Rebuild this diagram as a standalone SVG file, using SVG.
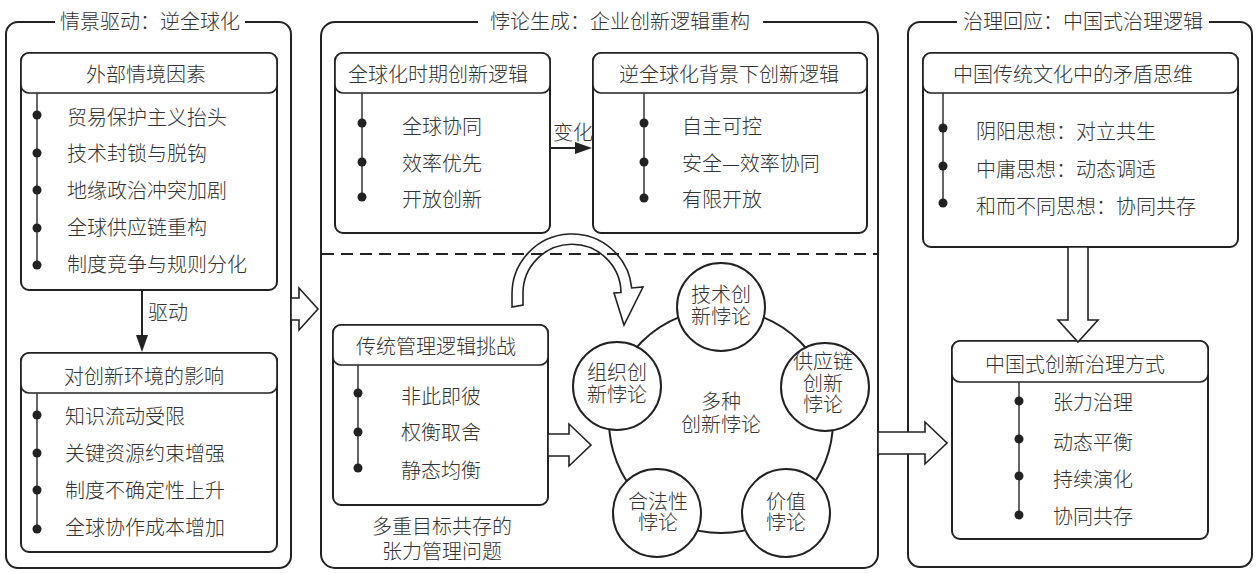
<svg xmlns="http://www.w3.org/2000/svg" width="1257" height="573" viewBox="0 0 1257 573">
<style>
  .panel{fill:none;stroke:#222;stroke-width:2}
  .gap{fill:#fff;stroke:none}
  .box{fill:#fff;stroke:#222;stroke-width:2}
  .hdr{fill:#fff;stroke:#222;stroke-width:1.6}
  .vl{stroke:#333;stroke-width:1.5}
  .dot{fill:#222}
  .ring{fill:none;stroke:#222;stroke-width:2}
  .pc{fill:#fff;stroke:#222;stroke-width:2}
  .hollow{fill:#fff;stroke:#222;stroke-width:1.6;stroke-linejoin:miter}
  .line{stroke:#222;stroke-width:2;fill:none}
  .dash{stroke:#222;stroke-width:2;stroke-dasharray:12 7;fill:none}
  text{font-family:"Noto Sans CJK SC","Noto Sans",sans-serif;font-size:20px;font-weight:300;fill:#333}
  .c{text-anchor:middle}
</style>
<rect width="1257" height="573" fill="#fff"/>

<!-- Panels -->
<g id="panel-left">
  <rect class="panel" x="6" y="22" width="285" height="546" rx="12"/>
  <rect class="gap" x="55" y="8" width="190" height="28"/>
  <text class="c" x="150" y="29">情景驱动：逆全球化</text>
</g>
<g id="panel-middle">
  <rect class="panel" x="321" y="22" width="557" height="546" rx="14"/>
  <rect class="gap" x="478" y="8" width="285" height="28"/>
  <text class="c" x="620" y="29">悖论生成：企业创新逻辑重构</text>
</g>
<g id="panel-right">
  <rect class="panel" x="908" y="22" width="344" height="545" rx="12"/>
  <rect class="gap" x="957" y="8" width="252" height="28"/>
  <text class="c" x="1083" y="29">治理回应：中国式治理逻辑</text>
</g>

<!-- Left nodes -->
<g id="node-external">
  <rect class="box" x="21" y="53" width="256" height="237" rx="8"/>
  <rect class="hdr" x="21" y="53" width="256" height="40" rx="8"/>
  <text class="c" x="146" y="82">外部情境因素</text>
  <line class="vl" x1="37" y1="93" x2="37" y2="265"/>
  <circle class="dot" cx="37" cy="115" r="4.5"/>
  <circle class="dot" cx="37" cy="153" r="4.5"/>
  <circle class="dot" cx="37" cy="190" r="4.5"/>
  <circle class="dot" cx="37" cy="228" r="4.5"/>
  <circle class="dot" cx="37" cy="265" r="4.5"/>
  <text x="67" y="125">贸易保护主义抬头</text>
  <text x="67" y="161">技术封锁与脱钩</text>
  <text x="67" y="198">地缘政治冲突加剧</text>
  <text x="67" y="235">全球供应链重构</text>
  <text x="67" y="272">制度竞争与规则分化</text>
</g>
<g id="node-impact">
  <rect class="box" x="21" y="353" width="256" height="199" rx="8"/>
  <rect class="hdr" x="21" y="353" width="256" height="40" rx="8"/>
  <text class="c" x="144" y="384">对创新环境的影响</text>
  <line class="vl" x1="37" y1="393" x2="37" y2="529"/>
  <circle class="dot" cx="37" cy="415" r="4.5"/>
  <circle class="dot" cx="37" cy="453" r="4.5"/>
  <circle class="dot" cx="37" cy="490" r="4.5"/>
  <circle class="dot" cx="37" cy="529" r="4.5"/>
  <text x="65" y="424">知识流动受限</text>
  <text x="65" y="461">关键资源约束增强</text>
  <text x="65" y="498">制度不确定性上升</text>
  <text x="65" y="535">全球协作成本增加</text>
</g>

<!-- Middle nodes -->
<g id="node-global-logic">
  <rect class="box" x="335" y="53" width="215" height="180" rx="8"/>
  <rect class="hdr" x="335" y="53" width="215" height="40" rx="8"/>
  <text class="c" x="438" y="82">全球化时期创新逻辑</text>
  <line class="vl" x1="362" y1="93" x2="362" y2="197"/>
  <circle class="dot" cx="362" cy="123" r="4.5"/>
  <circle class="dot" cx="362" cy="162" r="4.5"/>
  <circle class="dot" cx="362" cy="197" r="4.5"/>
  <text x="402" y="134">全球协同</text>
  <text x="402" y="171">效率优先</text>
  <text x="402" y="207">开放创新</text>
</g>
<g id="node-deglobal-logic">
  <rect class="box" x="593" y="53" width="274" height="180" rx="8"/>
  <rect class="hdr" x="593" y="53" width="274" height="40" rx="8"/>
  <text class="c" x="729" y="82">逆全球化背景下创新逻辑</text>
  <line class="vl" x1="644" y1="93" x2="644" y2="198"/>
  <circle class="dot" cx="644" cy="123" r="4.5"/>
  <circle class="dot" cx="644" cy="162" r="4.5"/>
  <circle class="dot" cx="644" cy="198" r="4.5"/>
  <text x="682" y="134">自主可控</text>
  <text x="682" y="171">安全—效率协同</text>
  <text x="682" y="207">有限开放</text>
</g>
<g id="node-traditional">
  <rect class="box" x="333" y="325" width="215" height="180" rx="8"/>
  <rect class="hdr" x="333" y="325" width="215" height="40" rx="8"/>
  <text class="c" x="436" y="354">传统管理逻辑挑战</text>
  <line class="vl" x1="358" y1="365" x2="358" y2="468"/>
  <circle class="dot" cx="358" cy="393" r="4.5"/>
  <circle class="dot" cx="358" cy="432" r="4.5"/>
  <circle class="dot" cx="358" cy="468" r="4.5"/>
  <text x="401" y="404">非此即彼</text>
  <text x="401" y="440">权衡取舍</text>
  <text x="401" y="478">静态均衡</text>
</g>
<g id="caption-tension">
  <text class="c" x="442" y="534">多重目标共存的<tspan x="442" dy="25">张力管理问题</tspan></text>
</g>
<g id="node-paradox-ring">
  <circle class="ring" cx="721" cy="421" r="112"/>
  <text class="c" x="721" y="409">多种<tspan x="721" dy="23">创新悖论</tspan></text>
</g>
<g id="node-tech">
  <circle class="pc" cx="721" cy="307" r="44"/>
  <text class="c" x="721" y="302">技术创<tspan x="721" dy="22">新悖论</tspan></text>
</g>
<g id="node-supply">
  <circle class="pc" cx="825" cy="387" r="44"/>
  <text class="c" x="823" y="369">供应链<tspan x="823" dy="22">创新</tspan><tspan x="823" dy="21">悖论</tspan></text>
</g>
<g id="node-value">
  <circle class="pc" cx="786" cy="513" r="44"/>
  <text class="c" x="786" y="509">价值<tspan x="786" dy="21">悖论</tspan></text>
</g>
<g id="node-legit">
  <circle class="pc" cx="657" cy="513" r="44"/>
  <text class="c" x="658" y="509">合法性<tspan x="658" dy="21">悖论</tspan></text>
</g>
<g id="node-org">
  <circle class="pc" cx="617" cy="386" r="44"/>
  <text class="c" x="617" y="380">组织创<tspan x="617" dy="22">新悖论</tspan></text>
</g>

<!-- Right nodes -->
<g id="node-culture">
  <rect class="box" x="923" y="53" width="315" height="194" rx="8"/>
  <rect class="hdr" x="923" y="53" width="315" height="40" rx="8"/>
  <text class="c" x="1073" y="82">中国传统文化中的矛盾思维</text>
  <line class="vl" x1="943" y1="93" x2="943" y2="203"/>
  <circle class="dot" cx="943" cy="128" r="4.5"/>
  <circle class="dot" cx="943" cy="166" r="4.5"/>
  <circle class="dot" cx="943" cy="203" r="4.5"/>
  <text x="976" y="139">阴阳思想：对立共生</text>
  <text x="976" y="177">中庸思想：动态调适</text>
  <text x="976" y="214">和而不同思想：协同共存</text>
</g>
<g id="node-governance">
  <rect class="box" x="952" y="341" width="256" height="198" rx="8"/>
  <rect class="hdr" x="952" y="341" width="256" height="41" rx="8"/>
  <text class="c" x="1075" y="372">中国式创新治理方式</text>
  <line class="vl" x1="1019" y1="382" x2="1019" y2="515"/>
  <circle class="dot" cx="1019" cy="401" r="4.5"/>
  <circle class="dot" cx="1019" cy="439" r="4.5"/>
  <circle class="dot" cx="1019" cy="476" r="4.5"/>
  <circle class="dot" cx="1019" cy="515" r="4.5"/>
  <text x="1053" y="410">张力治理</text>
  <text x="1053" y="450">动态平衡</text>
  <text x="1053" y="487">持续演化</text>
  <text x="1053" y="524">协同共存</text>
</g>

<!-- Connectors -->
<g id="connectors">
  <line class="line" x1="142" y1="290" x2="142" y2="337"/>
  <polygon points="136,335 148,335 142,352" fill="#222"/>
  <text x="148" y="320">驱动</text>

  <line class="line" x1="550" y1="148" x2="577" y2="148"/>
  <polygon points="575,142 592,148 575,154" fill="#222"/>
  <text x="553" y="140">变化</text>

  <polygon class="hollow" points="291,298 299,298 299,288 318,309 299,330 299,320 291,320"/>
  <polygon class="hollow" points="548,434 569,434 569,424 591,445 569,466 569,456 548,456"/>
  <polygon class="hollow" points="878,432 925,432 925,422 947,443 925,464 925,454 878,454"/>
  <polygon class="hollow" points="1068,247 1088,247 1088,320 1098,320 1078,342 1058,320 1068,320"/>

  <path class="hollow" d="M512 307 L512 294 A60 60 0 0 1 631.7 288 L643 287 L624 325 L614 293 L621 292.5 A49 49 0 0 0 523 294 L523 305 Z"/>
  <line class="dash" x1="322" y1="254" x2="877" y2="254"/>
</g>
</svg>
